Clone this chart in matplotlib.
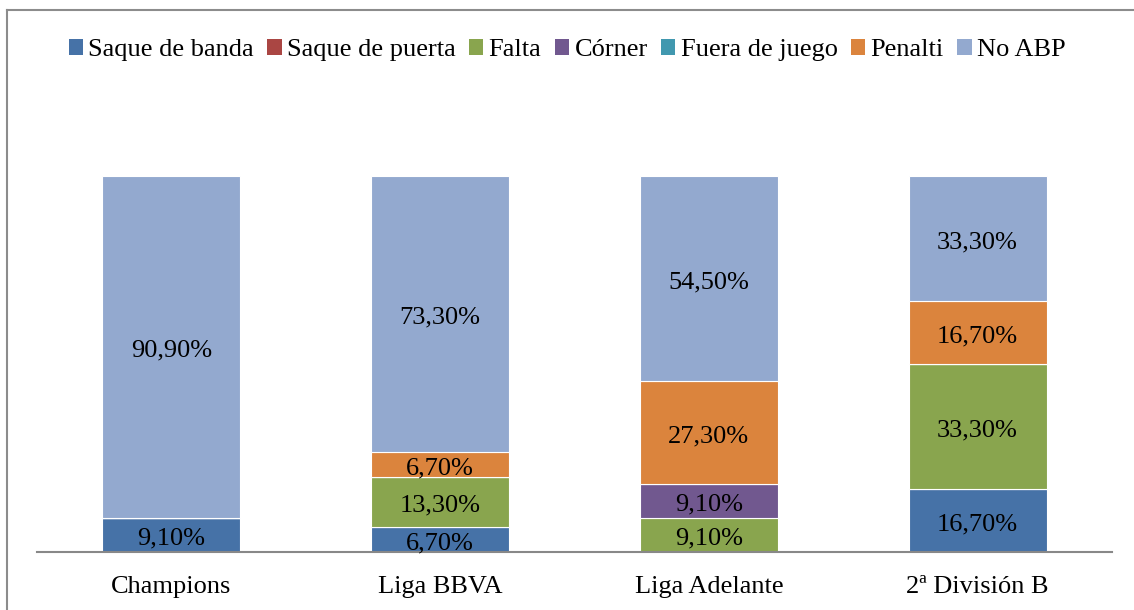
import numpy as np
import matplotlib
matplotlib.use("Agg")
import matplotlib.pyplot as plt
from matplotlib.patches import Patch
from matplotlib.lines import Line2D

plt.rcParams['font.family'] = ['Liberation Serif', 'DejaVu Serif']

# categorias y series (porcentajes)
categorias = ['Champions', 'Liga BBVA', 'Liga Adelante', '2ª División B']
series = ['Saque de banda', 'Saque de puerta', 'Falta', 'Córner',
          'Fuera de juego', 'Penalti', 'No ABP']
saque_banda = [9.1, 6.7, 0.0, 16.7]
saque_puerta = [0.0, 0.0, 0.0, 0.0]
falta = [0.0, 13.3, 9.1, 33.3]
corner = [0.0, 0.0, 9.1, 0.0]
fuera_juego = [0.0, 0.0, 0.0, 0.0]
penalti = [0.0, 6.7, 27.3, 16.7]
no_abp = [90.9, 73.3, 54.5, 33.3]

valores = [saque_banda, saque_puerta, falta, corner, fuera_juego, penalti, no_abp]
colores = ['#4672A7', '#AA4643', '#89A54E', '#71588F', '#4198AF', '#DB843D', '#93A9CF']

fig = plt.figure(figsize=(11.34, 6.10), dpi=100)
ax = fig.add_axes([37/1134, 1 - 552/610, (1112 - 37)/1134, (552 - 176)/610])

x = np.arange(len(categorias))
bottom = np.zeros(len(categorias))
for nombre, vals, col in zip(series, valores, colores):
    vals = np.array(vals)
    ax.bar(x, vals, 0.514, bottom=bottom, color=col, edgecolor='white',
           linewidth=0.8, label=nombre)
    for xi, b, v in zip(x, bottom, vals):
        if v > 0:
            ax.annotate(f"{v:.2f}".replace('.', ',') + '%', (xi, b + v / 2),
                        xytext=(0, -4), textcoords='offset pixels',
                        ha='center', va='center', fontsize=19, color='black')
    bottom += vals

ax.set_xlim(-0.5, len(categorias) - 0.5)
ax.set_ylim(0, 100)
ax.set_yticks([])
ax.set_xticks(x)
ax.set_xticklabels(categorias, fontsize=19)
ax.tick_params(axis='x', length=0, pad=17)
for s in ['top', 'left', 'right']:
    ax.spines[s].set_visible(False)
ax.spines['bottom'].set_color('#888888')
ax.spines['bottom'].set_linewidth(1.5)

handles = [Patch(facecolor=c, edgecolor='none') for c in colores]
fig.legend(handles, series, loc='center', bbox_to_anchor=(0.5, 1 - 50/610),
           ncol=7, frameon=False, fontsize=19, handlelength=0.55, handleheight=0.55,
           handletextpad=0.2, columnspacing=0.5)

# marco del grafico (solo borde superior e izquierdo visibles)
fig.add_artist(Line2D([7/1134, 1], [1 - 10/610, 1 - 10/610], transform=fig.transFigure,
                      color='#8c8c8c', linewidth=1.5))
fig.add_artist(Line2D([7/1134, 7/1134], [0, 1 - 10/610], transform=fig.transFigure,
                      color='#8c8c8c', linewidth=1.5))

fig.savefig('out.png', dpi=100)
